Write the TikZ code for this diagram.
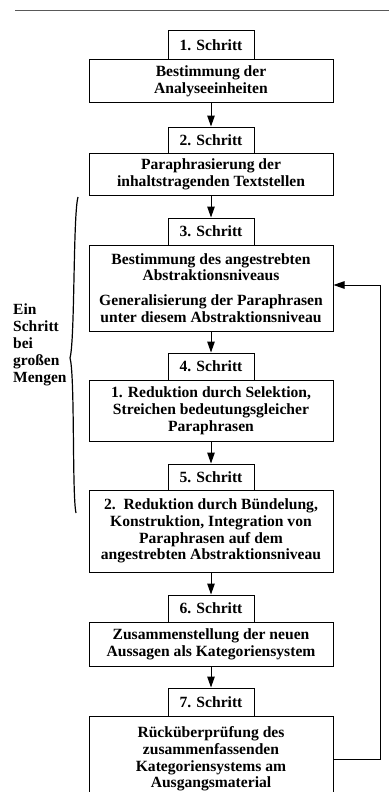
\documentclass[tikz,border=0pt]{standalone}
\usepackage{fontspec}
\setmainfont{Liberation Serif}
\usetikzlibrary{arrows.meta}
\begin{document}
\begin{tikzpicture}[x=1pt,y=-1pt,
  box/.style={draw, line width=1pt, minimum width=244pt, align=center, inner sep=0pt,
    font=\fontsize{15.6}{16.8}\selectfont\bfseries},
  tab/.style={draw, line width=1pt, minimum width=86pt, inner sep=0pt,
    font=\fontsize{15.6}{16.8}\selectfont\bfseries},
  arr/.style={line width=1pt, -{Triangle[length=11pt,width=7.5pt]}},
  lbl/.style={align=left, inner sep=0pt, anchor=north west,
    font=\fontsize{15.5}{17}\selectfont\bfseries}]
\useasboundingbox (0,0) rectangle (389,792);
\fill[white] (0,0) rectangle (389,792);
\clip (0,0) rectangle (389,792);
\draw[gray!70!black, line width=0.8pt] (15,10) -- (389,10);

\node[tab, minimum height=29pt] (t1) at (211,45.5) {1. Schritt};
\node[box, minimum height=42pt] (b1) at (211,81) {Bestimmung der\\Analyseeinheiten};
\node[tab, minimum height=26pt] (t2) at (211,140) {2. Schritt};
\node[box, minimum height=42pt] (b2) at (211,174) {Paraphrasierung der\\inhaltstragenden Textstellen};
\node[tab, minimum height=27pt] (t3) at (211,231.5) {3. Schritt};
\node[box, minimum height=86pt] (b3) at (211,288) {Bestimmung des angestrebten\\Abstraktionsniveaus\\[8pt]Generalisierung der Paraphrasen\\unter diesem Abstraktionsniveau};
\node[tab, minimum height=27pt] (t4) at (211,366.5) {4. Schritt};
\node[box, minimum height=61pt] (b4) at (211,410.5) {1. Reduktion durch Selektion,\\Streichen bedeutungsgleicher\\Paraphrasen};
\node[tab, minimum height=26pt] (t5) at (211,477) {5. Schritt};
\node[box, minimum height=82pt] (b5) at (211,531) {2.\ \ Reduktion durch Bündelung,\\Konstruktion, Integration von\\Paraphrasen auf dem\\angestrebten Abstraktionsniveau};
\node[tab, minimum height=27pt] (t6) at (211,608.5) {6. Schritt};
\node[box, minimum height=44pt] (b6) at (211,644) {Zusammenstellung der neuen\\Aussagen als Kategoriensystem};
\node[tab, minimum height=28pt] (t7) at (211,702) {7. Schritt};
\node[box, minimum height=86pt] (b7) at (211,759) {Rücküberprüfung des\\zusammenfassenden\\Kategoriensystems am\\Ausgangsmaterial};

\draw[arr] (b1) -- (t2);
\draw[arr] (b2) -- (t3);
\draw[arr] (b3) -- (t4);
\draw[arr] (b4) -- (t5);
\draw[arr] (b5) -- (t6);
\draw[arr] (b6) -- (t7);

\coordinate (fb) at (380,285);
\draw[arr] (b7.east) -| (fb) -- (b3.east |- fb);

\draw[line width=1.2pt] (78,197) .. controls (73,215) and (75,340) .. (70,358)
  .. controls (75,375) and (72,495) .. (76,513);
\node[lbl] (note) at (13,304) {Ein\\Schritt\\bei\\großen\\Mengen};
\end{tikzpicture}
\end{document}
